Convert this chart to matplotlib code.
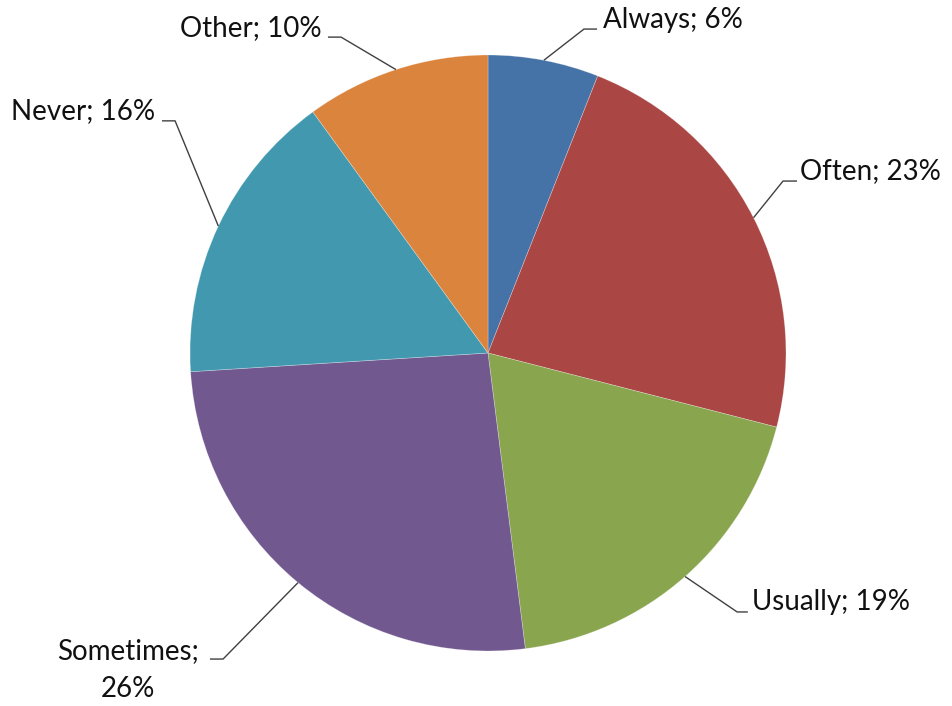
import numpy as np
import matplotlib.pyplot as plt

labels = ["Always", "Often", "Usually", "Sometimes", "Never", "Other"]
shares = [6, 23, 19, 26, 16, 10]
colors = ["#4572A7", "#AA4643", "#89A54E", "#71588F", "#4198AF", "#DB843D"]

# label layout in axis units (pie radius = 1): elbow, line end, text anchor
elbows = [(0.322, 1.087), (0.990, 0.577), (0.836, -0.869),
          (-0.889, -1.027), (-1.050, 0.779), (-0.493, 1.060)]
line_ends = [(0.366, 1.087), (1.037, 0.577), (0.872, -0.869),
             (-0.933, -1.027), (-1.094, 0.779), (-0.537, 1.060)]
text_pos = [(0.386, 1.092), (1.047, 0.584), (0.886, -0.862),
            (-1.208, -1.155), (-1.117, 0.784), (-0.557, 1.063)]
text_ha = ["left", "left", "left", "center", "right", "right"]
label_text = ["Always; 6%", "Often; 23%", "Usually; 19%",
              "Sometimes;\n26%", "Never; 16%", "Other; 10%"]

plt.rcParams['font.family'] = ['Lato', 'DejaVu Sans']

fig = plt.figure(figsize=(9.52, 7.06), dpi=100)
ax = fig.add_axes([0, 0, 1, 1])
ax.axis('off')

wedges, _ = ax.pie(shares, colors=colors, startangle=90, counterclock=False,
                   radius=1.0, center=(0, 0),
                   wedgeprops=dict(edgecolor=(1, 1, 1, 0.35), linewidth=0.5))

# pixel scale: centre at (488, 353), radius 298 px
ax.set_xlim(-488 / 298, (952 - 488) / 298)
ax.set_ylim(-(706 - 353) / 298, 353 / 298)
ax.set_aspect('auto')

for w, el, le, tp, ha, txt in zip(wedges, elbows, line_ends, text_pos, text_ha, label_text):
    mid = np.deg2rad((w.theta1 + w.theta2) / 2)
    start = (np.cos(mid), np.sin(mid))
    ax.plot([start[0], el[0], le[0]], [start[1], el[1], le[1]],
            color="#404040", lw=1.0, solid_capstyle='butt')
    ax.text(tp[0], tp[1], txt, ha=ha, va='baseline', fontsize=20,
            color="#111111", multialignment='center', linespacing=1.6)

fig.savefig("out.png", dpi=100)
